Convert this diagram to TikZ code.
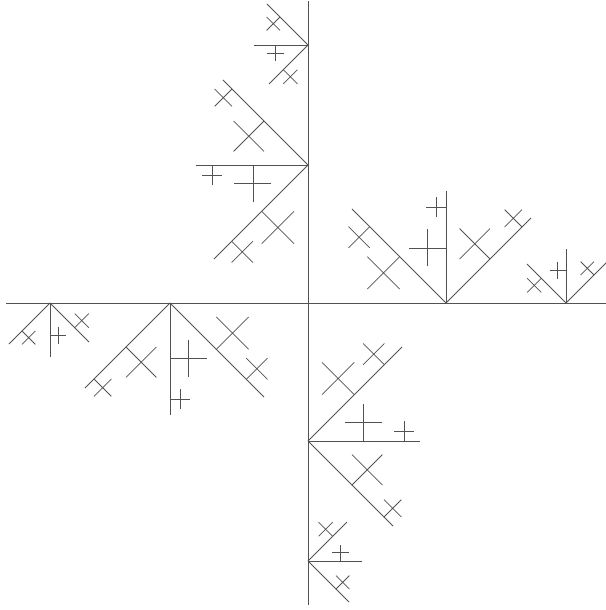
\documentclass[tikz,border=0pt]{standalone}
\begin{document}
\begin{tikzpicture}[x=1pt,y=1pt,br/.style={draw=black!68,line width=0.75pt}]
\useasboundingbox (-308,-307) rectangle (297,303);
\newcommand\xcr[4]{\draw[br,shift={(#1,#2)},rotate=#3] (0,0) -- (#4,0) (#4/2,#4/2) -- (#4/2,-#4/2);}
\newcommand\armdraw{%
  \draw[br] (0,0) -- (0,302);
  % large branching
  \draw[br] (0,138) -- (-112,138);
  \draw[br] (0,138) -- (-85,223);
  \draw[br] (0,138) -- (-94,44);
  \xcr{-55}{138}{-90}{37}
  \xcr{-96}{138}{-90}{20}
  \xcr{-44}{182}{225}{43}
  \xcr{-76}{214}{225}{24.5}
  \xcr{-46.3}{91.7}{-45}{45.7}
  \xcr{-76.3}{61.7}{-45}{30}
  % small branching
  \draw[br] (0,258) -- (-54,258);
  \draw[br] (0,258) -- (-41,299);
  \draw[br] (0,258) -- (-39,219);
  \xcr{-32.6}{258}{-90}{16.5}
  \xcr{-28}{286}{225}{19}
  \xcr{-24.7}{233.3}{-45}{20}
}
\foreach \r in {0,-90,-180,-270} {
  \begin{scope}[rotate=\r]
    \armdraw
  \end{scope}
}
\end{tikzpicture}
\end{document}
